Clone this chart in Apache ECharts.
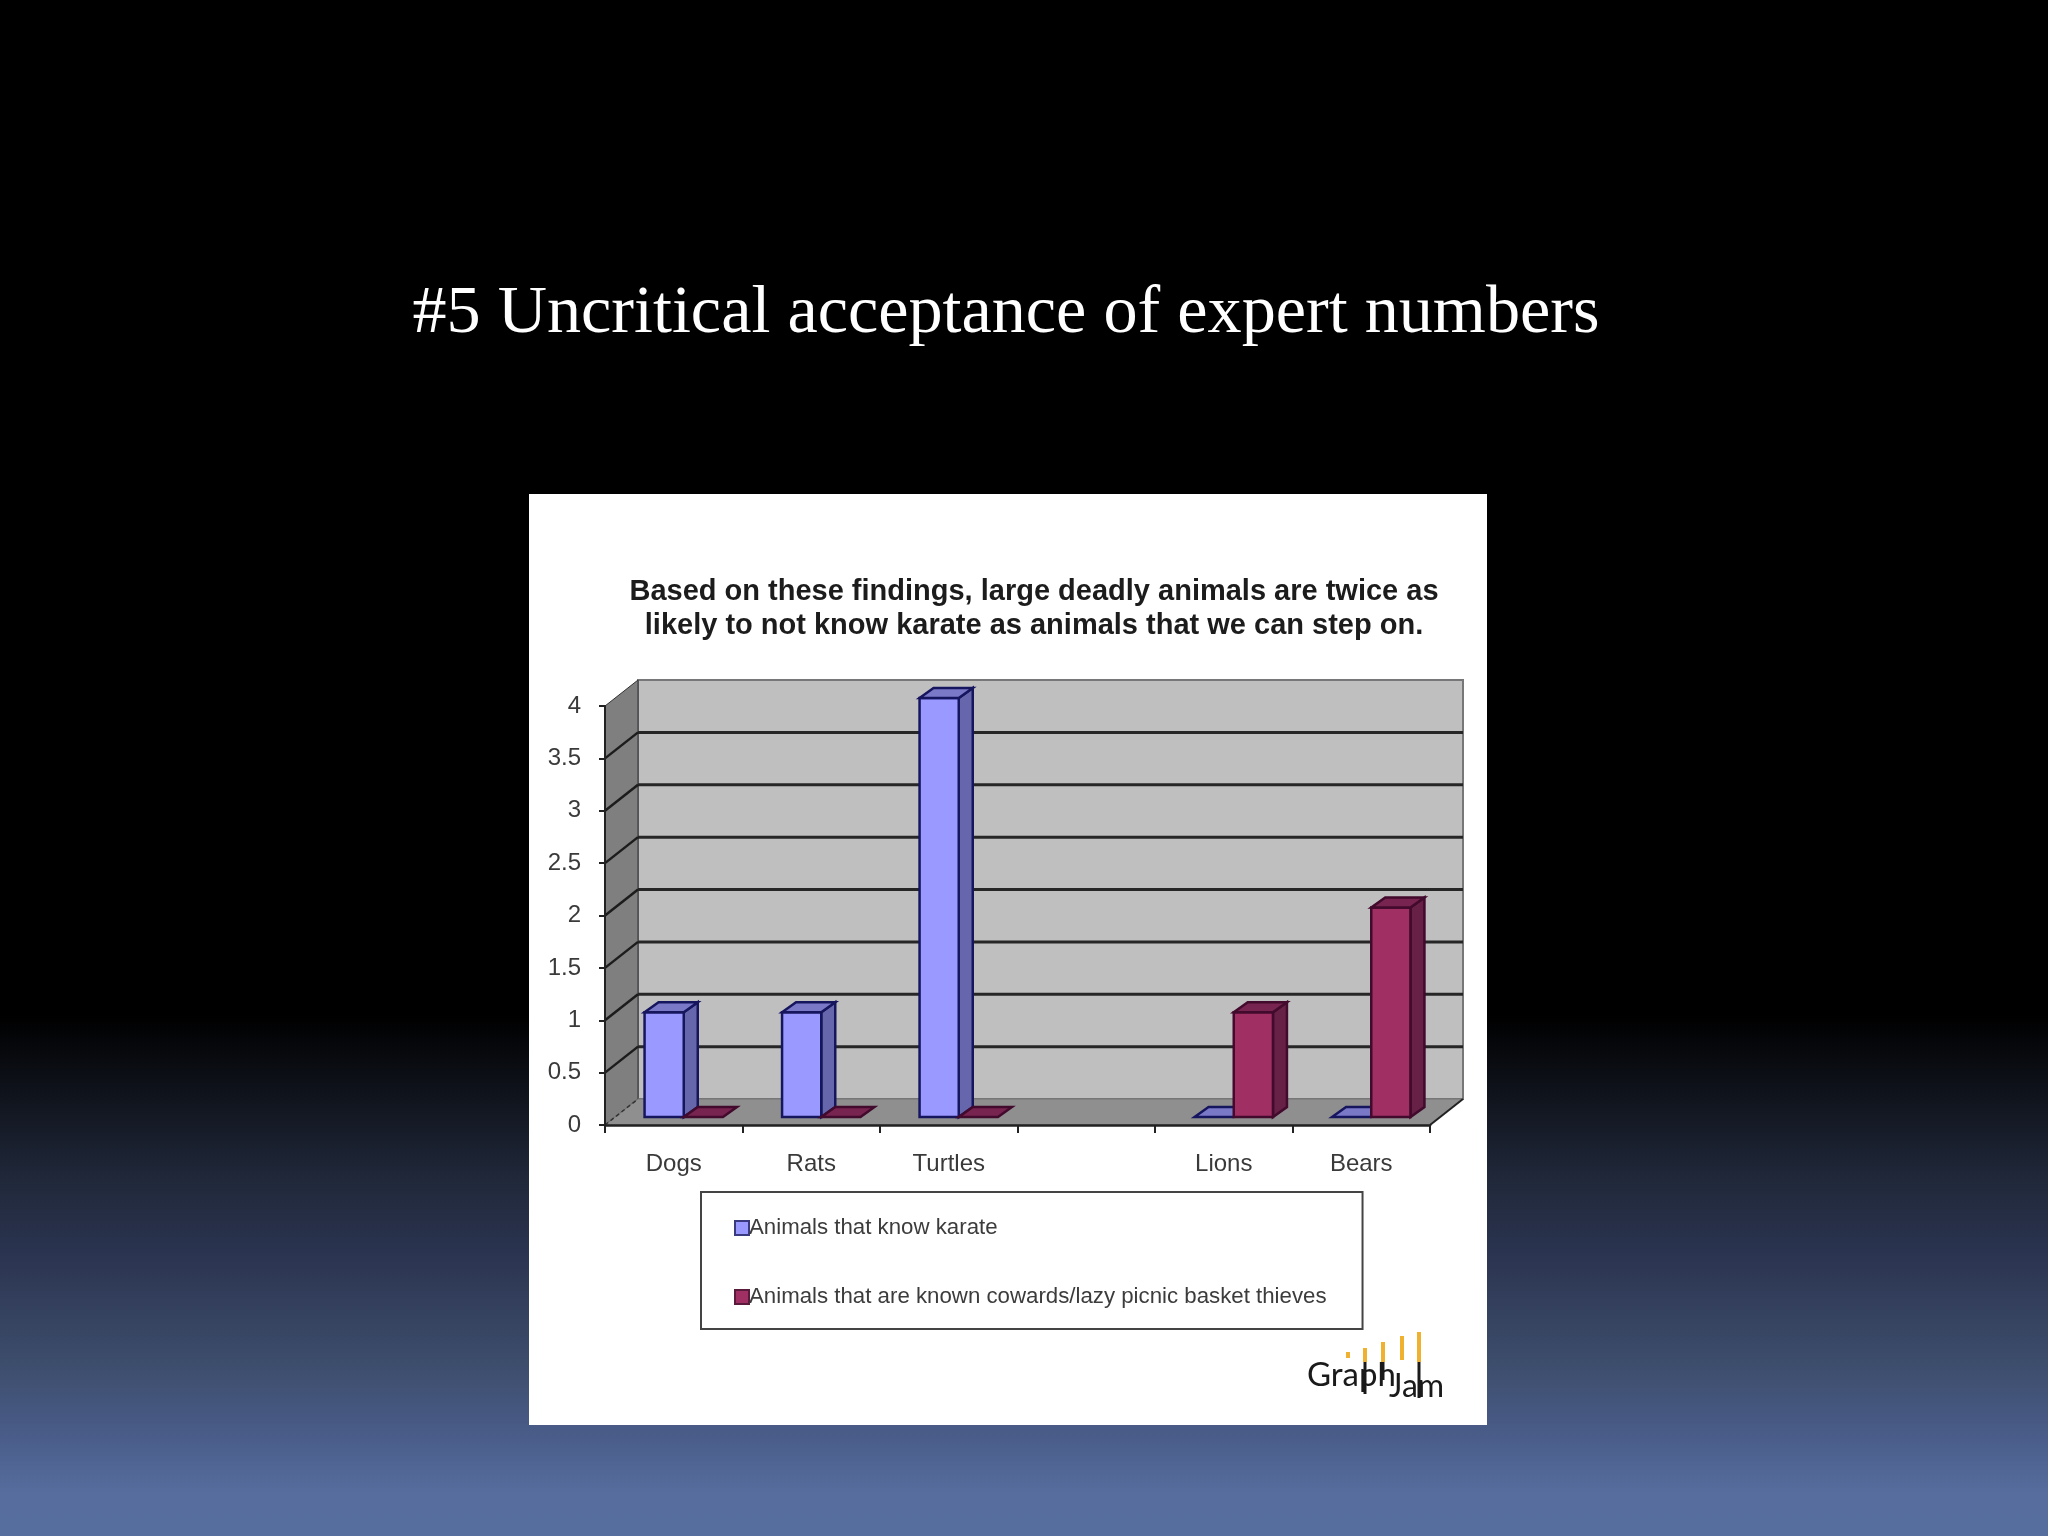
<!DOCTYPE html>
<html>
<head>
<meta charset="utf-8">
<style>html,body{margin:0;padding:0;background:#000}#c{width:2048px;height:1536px}</style>
<script src="https://cdn.jsdelivr.net/npm/echarts@6/dist/echarts.min.js"></script>
</head>
<body>
<div id="c"></div>
<script>
const slideTitle = '#5 Uncritical acceptance of expert numbers';
const chartTitle = 'Based on these findings, large deadly animals are twice as\nlikely to not know karate as animals that we can step on.';
const categories = ['Dogs', 'Rats', 'Turtles', '', 'Lions', 'Bears'];
const karateName = 'Animals that know karate';
const cowardName = 'Animals that are known cowards/lazy picnic basket thieves';
const karateValues = [1, 1, 4, null, 0, 0];
const cowardValues = [0, 0, 0, null, 1, 2];
const yTicks = [4, 3.5, 3, 2.5, 2, 1.5, 1, 0.5, 0];
const logoBars = [[1348, 1352, 1358], [1365, 1348, 1362], [1383, 1342, 1362], [1402, 1336, 1360], [1419, 1332, 1362]];
const logoStems = [[1365, 1362, 1394], [1383, 1362, 1380], [1419, 1362, 1398]];

const wallDX = 33, wallDY = 26, barOffX = 10, barOffY = 8, barDX = 14, barDY = 10, barRatio = 0.285;
const SANS = '"Liberation Sans", Arial, sans-serif';

function poly(points, fill, stroke, lw) {
  return { type: 'polygon', shape: { points }, style: { fill, stroke, lineWidth: lw || 0 } };
}
function line(x1, y1, x2, y2, stroke, lw, dash) {
  return { type: 'line', shape: { x1, y1, x2, y2 }, style: { stroke, lineWidth: lw, lineDash: dash || null } };
}

function renderFrame(params, api) {
  const t = api.value(1);
  const cs = params.coordSys;
  const xl = cs.x, xr = cs.x + cs.width;
  const y = api.coord([0, t])[1];
  const children = [];
  if (t === yTicks[0]) {
    const y0 = api.coord([0, 0])[1];
    children.push(poly([[xl + wallDX, y - wallDY], [xr + wallDX, y - wallDY], [xr + wallDX, y0 - wallDY], [xl + wallDX, y0 - wallDY]], '#c0bfc0', '#77777a', 2));
    children.push(poly([[xl, y], [xl + wallDX, y - wallDY], [xl + wallDX, y0 - wallDY], [xl, y0]], '#7f7f7f', '#333', 1));
  } else if (t === 0) {
    children.push(poly([[xl, y], [xr, y], [xr + wallDX, y - wallDY], [xl + wallDX, y - wallDY]], '#8f8f8f', '#777', 1));
    children.push(line(xl, y, xl + wallDX, y - wallDY, '#333', 1.5, [4, 3]));
    children.push(line(xr, y, xr + wallDX, y - wallDY, '#222', 2));
  } else {
    children.push(line(xl + wallDX, y - wallDY, xr + wallDX, y - wallDY, '#262626', 3));
    children.push(line(xl, y, xl + wallDX, y - wallDY, '#1c1c1c', 2.5));
  }
  return { type: 'group', children };
}

function barRenderer(side, colors) {
  return function (params, api) {
    const v = api.value(1);
    if (v === null || v === undefined || isNaN(v)) return null;
    const i = api.value(0);
    const c = api.coord([i, v]);
    const base = api.coord([i, 0])[1] - barOffY;
    const top = c[1] - barOffY;
    const w = api.size([1, 0])[0] * barRatio;
    const x0 = c[0] + barOffX + (side < 0 ? -w : 0);
    const x1 = x0 + w;
    const lw = 2.5;
    const children = [];
    if (v > 0) {
      children.push(poly([[x1, top], [x1 + barDX, top - barDY], [x1 + barDX, base - barDY], [x1, base]], colors.side, colors.edge, lw));
      children.push(poly([[x0, top], [x1, top], [x1, base], [x0, base]], colors.front, colors.edge, lw));
    }
    children.push(poly([[x0, top], [x1, top], [x1 + barDX, top - barDY], [x0 + barDX, top - barDY]], colors.top, colors.edge, lw));
    return { type: 'group', children };
  };
}

const blue = { front: '#9a99ff', side: '#6666ac', top: '#7a79c8', edge: '#16165f' };
const red = { front: '#a02f63', side: '#672146', top: '#772450', edge: '#420a2c' };

const chart = echarts.init(document.getElementById('c'), null, { renderer: 'canvas', width: 2048, height: 1536 });
chart.setOption({
  animation: false,
  backgroundColor: {
    type: 'linear', x: 0, y: 0, x2: 0, y2: 1,
    colorStops: [
      { offset: 0, color: '#000000' }, { offset: 0.661, color: '#000000' },
      { offset: 0.768, color: '#20283a' }, { offset: 0.816, color: '#2b3450' },
      { offset: 0.888, color: '#3d4d6c' }, { offset: 0.936, color: '#4a5d8a' },
      { offset: 0.972, color: '#566d9d' }, { offset: 1, color: '#566e9e' }
    ]
  },
  title: [
    { text: slideTitle, left: 1006, top: 276, textAlign: 'center', padding: 0,
      textStyle: { color: '#fff', fontFamily: '"Liberation Serif", serif', fontWeight: 'normal', fontSize: 68.2, lineHeight: 76 } },
    { text: chartTitle, left: 1034, top: 575, textAlign: 'center', padding: 0,
      textStyle: { color: '#1c1c1c', fontFamily: SANS, fontWeight: 'bold', fontSize: 29, lineHeight: 34 } }
  ],
  grid: { left: 605, top: 706, width: 825, height: 419, containLabel: false },
  xAxis: {
    type: 'category', data: categories, z: 5,
    axisLine: { lineStyle: { color: '#222', width: 2.5 } },
    axisTick: { show: true, alignWithLabel: false, length: 8, lineStyle: { color: '#222', width: 2 } },
    axisLabel: { color: '#3a3a3a', fontFamily: SANS, fontSize: 24, margin: 27, interval: 0 }
  },
  yAxis: {
    type: 'value', min: 0, max: 4, interval: 0.5, z: 5,
    axisLine: { show: true, lineStyle: { color: '#222', width: 2 } },
    axisTick: { show: true, length: 6, lineStyle: { color: '#222', width: 2 } },
    axisLabel: { color: '#3a3a3a', fontFamily: SANS, fontSize: 24, margin: 24 },
    splitLine: { show: false }
  },
  legend: {
    orient: 'vertical', left: 701, top: 1192, selectedMode: false,
    padding: [25, 36, 21, 33], itemGap: 47, itemWidth: 14, itemHeight: 14,
    borderColor: '#444', borderWidth: 2, backgroundColor: '#fff',
    textStyle: { color: '#3c3c3c', fontFamily: SANS, fontSize: 22.25, padding: [0, 0, 0, -5] },
    data: [
      { name: karateName, icon: 'rect', itemStyle: { color: '#9a99ff', borderColor: '#3a3a80', borderWidth: 2 } },
      { name: cowardName, icon: 'rect', itemStyle: { color: '#a02f63', borderColor: '#5a1a3c', borderWidth: 2 } }
    ]
  },
  graphic: [
    { type: 'rect', z: -10, shape: { x: 529, y: 494, width: 958, height: 931 }, style: { fill: '#fff' } },
    { type: 'text', z: 10, x: 1307, y: 1375, style: { text: 'Graph', fill: '#1a1a1a', font: '33px Lato, sans-serif', verticalAlign: 'middle' } },
    { type: 'text', z: 10, x: 1389, y: 1387, style: { text: 'Jam', fill: '#1a1a1a', font: '32px Lato, sans-serif', verticalAlign: 'middle' } }
  ].concat(logoBars.map(b => ({ type: 'rect', z: 9, shape: { x: b[0] - 2, y: b[1], width: 4, height: b[2] - b[1] }, style: { fill: '#f0b030' } })))
   .concat(logoStems.map(b => ({ type: 'rect', z: 9, shape: { x: b[0] - 1.5, y: b[1], width: 3, height: b[2] - b[1] }, style: { fill: '#1a1a1a' } }))),
  series: [
    { type: 'custom', name: 'frame', coordinateSystem: 'cartesian2d', z: 1, silent: true,
      encode: { x: 0, y: 1 }, renderItem: renderFrame, data: yTicks.map(t => [0, t]) },
    { type: 'custom', name: karateName, coordinateSystem: 'cartesian2d', z: 2, silent: true,
      encode: { x: 0, y: 1 }, renderItem: barRenderer(-1, blue), itemStyle: { color: blue.front },
      data: karateValues.map((v, i) => [i, v]) },
    { type: 'custom', name: cowardName, coordinateSystem: 'cartesian2d', z: 3, silent: true,
      encode: { x: 0, y: 1 }, renderItem: barRenderer(1, red), itemStyle: { color: red.front },
      data: cowardValues.map((v, i) => [i, v]) }
  ]
});
</script>
</body>
</html>
